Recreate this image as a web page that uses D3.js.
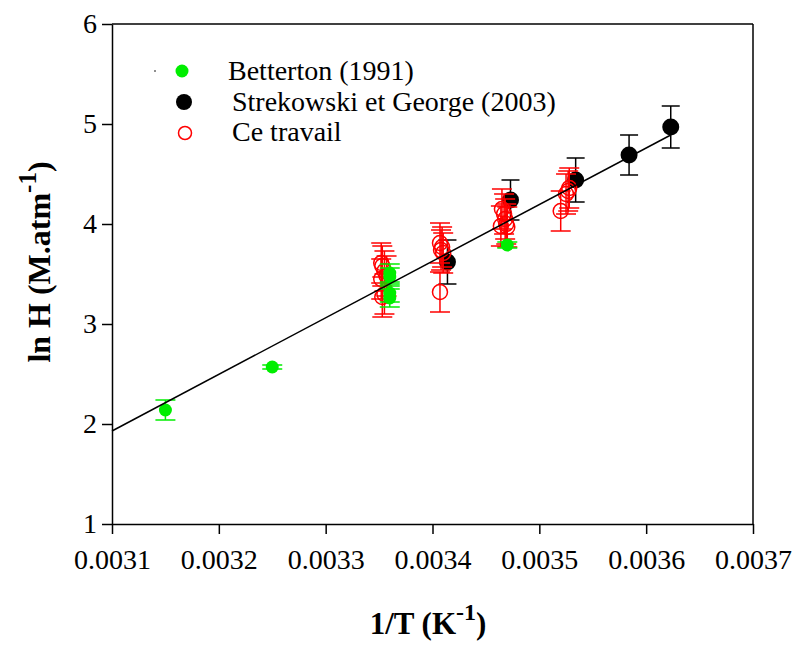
<!DOCTYPE html>
<html><head><meta charset="utf-8">
<script src="https://cdn.jsdelivr.net/npm/d3@7"></script>
<style>body{margin:0;background:#fff}svg{display:block}</style>
</head><body>
<svg id="c" width="792" height="645"></svg>
<script>
// ---- data ----
const bettertonX = [0.00315, 0.00325, 0.00336, 0.00336, 0.00336, 0.00336, 0.00347];
const bettertonY = [2.14, 2.57, 3.51, 3.47, 3.31, 3.26, 3.79];
const bettertonErr = [0.10, 0.02, 0.09, 0.09, 0.09, 0.09, 0.03];

const strekX = [0.003414, 0.003473, 0.003534, 0.003584, 0.003623];
const strekY = [3.62, 4.24, 4.44, 4.69, 4.97];
const strekErr = [0.22, 0.20, 0.22, 0.20, 0.21];

const ceX = [0.003352, 0.003353, 0.003355, 0.003357, 0.003352, 0.003355, 0.003353,
             0.003407, 0.003409, 0.003408, 0.003410, 0.003407,
             0.003465, 0.003467, 0.003468, 0.003464, 0.003470, 0.003469,
             0.003520, 0.003525, 0.003527, 0.003528];
const ceY = [3.61, 3.58, 3.53, 3.48, 3.45, 3.30, 3.27,
             3.81, 3.77, 3.74, 3.71, 3.32,
             4.15, 4.10, 4.05, 3.98, 3.97, 4.00,
             4.13, 4.30, 4.33, 4.36];
const ceErr = [0.2, 0.2, 0.2, 0.2, 0.2, 0.2, 0.2,
               0.2, 0.2, 0.2, 0.2, 0.2,
               0.2, 0.2, 0.2, 0.2, 0.2, 0.2,
               0.2, 0.2, 0.2, 0.2];

const fitX = [0.0031, 0.003623];
const fitY = [1.93, 4.89];

const xTicks = [0.0031, 0.0032, 0.0033, 0.0034, 0.0035, 0.0036, 0.0037];
const yTicks = [1, 2, 3, 4, 5, 6];
const legendLabels = ["Betterton (1991)", "Strekowski et George (2003)", "Ce travail"];

// ---- chart ----
const svg = d3.select("#c");
const x = d3.scaleLinear().domain([0.0031, 0.0037]).range([112, 753]);
const y = d3.scaleLinear().domain([1, 6]).range([524, 24]);
const FONT = "Liberation Serif, Times New Roman, serif";

// frame top/right
svg.append("line").attr("x1", 112).attr("x2", 753).attr("y1", 24).attr("y2", 24)
  .attr("stroke", "#000").attr("stroke-width", 1.5);
svg.append("line").attr("x1", 753).attr("x2", 753).attr("y1", 24).attr("y2", 524)
  .attr("stroke", "#000").attr("stroke-width", 1.5);

const xAxis = svg.append("g").attr("transform", "translate(0,524)")
  .call(d3.axisBottom(x).tickValues(xTicks).tickFormat(d3.format(".4f")).tickSizeInner(10).tickSizeOuter(0).tickPadding(15));
const yAxis = svg.append("g").attr("transform", "translate(112,0)")
  .call(d3.axisLeft(y).tickValues(yTicks).tickFormat(d3.format("d")).tickSizeInner(10).tickSizeOuter(0).tickPadding(5));
[xAxis, yAxis].forEach(a => {
  a.attr("font-family", FONT).attr("font-size", 28);
  a.select(".domain").attr("stroke-width", 1.5);
  a.selectAll(".tick line").attr("stroke-width", 1.5);
  a.selectAll("text").attr("font-family", FONT).attr("font-size", 28).attr("fill", "#000");
});

// error bars helper
function errorBars(xs, ys, es, color, cap) {
  const g = svg.append("g").attr("stroke", color).attr("stroke-width", 1.5);
  xs.forEach((xv, i) => {
    const cx = x(xv), t = y(ys[i] + es[i]), b = y(ys[i] - es[i]);
    g.append("line").attr("x1", cx).attr("x2", cx).attr("y1", t).attr("y2", b);
    g.append("line").attr("x1", cx - cap).attr("x2", cx + cap).attr("y1", t).attr("y2", t);
    g.append("line").attr("x1", cx - cap).attr("x2", cx + cap).attr("y1", b).attr("y2", b);
  });
}

// Strekowski (black)
errorBars(strekX, strekY, strekErr, "#000", 9);
svg.append("g").selectAll("circle").data(strekX).join("circle")
  .attr("cx", d => x(d)).attr("cy", (d, i) => y(strekY[i])).attr("r", 8.5).attr("fill", "#000");

// Ce travail (red open)
errorBars(ceX, ceY, ceErr, "#ff0000", 10);
svg.append("g").selectAll("circle").data(ceX).join("circle")
  .attr("cx", d => x(d)).attr("cy", (d, i) => y(ceY[i])).attr("r", 7.5)
  .attr("fill", "none").attr("stroke", "#ff0000").attr("stroke-width", 1.5);

// Betterton (green)
errorBars(bettertonX, bettertonY, bettertonErr, "#00ee00", 10);
svg.append("g").selectAll("circle").data(bettertonX).join("circle")
  .attr("cx", d => x(d)).attr("cy", (d, i) => y(bettertonY[i])).attr("r", 6.5).attr("fill", "#00ee00");

// regression line
svg.append("path").datum(fitX.map((d, i) => [d, fitY[i]]))
  .attr("d", d3.line().x(d => x(d[0])).y(d => y(d[1])))
  .attr("stroke", "#000").attr("stroke-width", 1.5).attr("fill", "none");

// legend
const leg = svg.append("g");
leg.append("circle").attr("cx", 155).attr("cy", 71).attr("r", 0.8).attr("fill", "#000");
leg.append("circle").attr("cx", 182).attr("cy", 71).attr("r", 6.5).attr("fill", "#00ee00");
leg.append("circle").attr("cx", 184).attr("cy", 102).attr("r", 8).attr("fill", "#000");
leg.append("circle").attr("cx", 185).attr("cy", 133).attr("r", 6.5).attr("fill", "none").attr("stroke", "#ff0000").attr("stroke-width", 1.5);
const legPos = [[228, 80], [232, 111], [232, 141]];
legendLabels.forEach((t, i) => {
  leg.append("text").attr("x", legPos[i][0]).attr("y", legPos[i][1])
    .attr("font-family", FONT).attr("font-size", 28).text(t);
});

// axis titles
const xt = svg.append("text").attr("x", 428).attr("y", 634).attr("text-anchor", "middle")
  .attr("font-family", FONT).attr("font-size", 31).attr("font-weight", "bold");
xt.append("tspan").text("1/T (K");
xt.append("tspan").attr("dy", -14).attr("font-size", 24).text("-1");
xt.append("tspan").attr("dy", 14).text(")");

const yt = svg.append("text").attr("transform", "translate(50,262) rotate(-90)").attr("text-anchor", "middle")
  .attr("font-family", FONT).attr("font-size", 32).attr("font-weight", "bold");
yt.append("tspan").text("ln H (M.atm");
yt.append("tspan").attr("dy", -14).attr("font-size", 25).text("-1");
yt.append("tspan").attr("dy", 14).text(")");
</script>
</body></html>
